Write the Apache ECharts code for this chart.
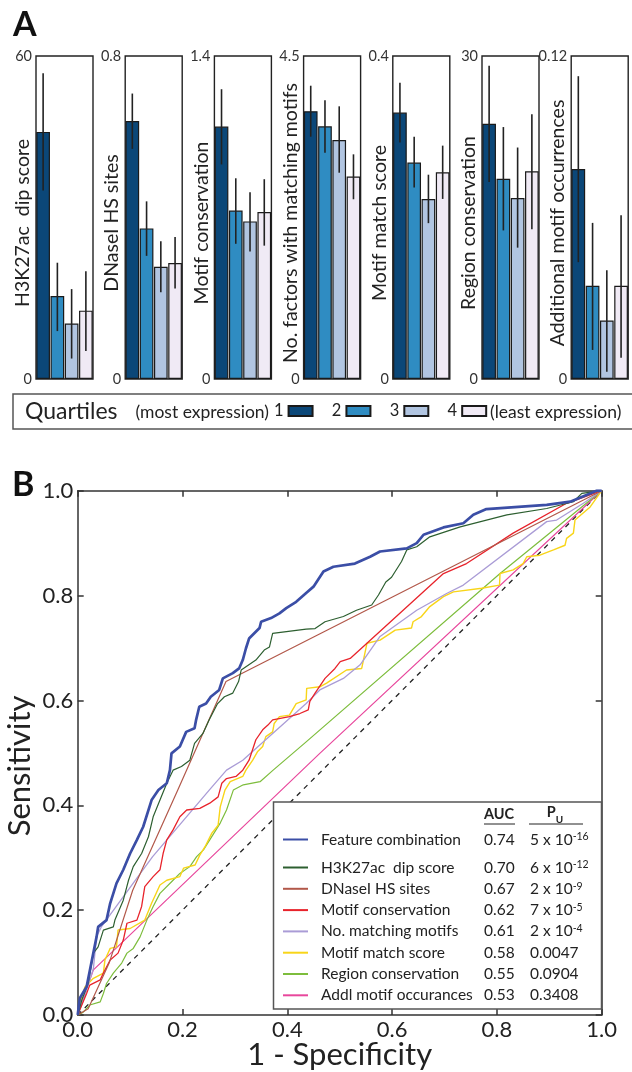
<!DOCTYPE html>
<html><head><meta charset="utf-8">
<script src="https://cdn.jsdelivr.net/npm/echarts@6/dist/echarts.min.js"></script>
<style>html,body{margin:0;padding:0;background:#fff}#c{width:632px;height:1072px}</style>
</head><body><div id="c"></div>
<script>
// ---------- Panel A data ----------
const panelNames = ['H3K27ac  dip score','DNaseI HS sites','Motif conservation','No. factors with matching motifs','Motif match score','Region conservation','Additional motif occurrences'];
const panelMax = [60, 0.8, 1.4, 4.5, 0.4, 30, 0.12];
const panelMaxLabels = ['60','0.8','1.4','4.5','0.4','30','0.12'];
const quartileNames = ['1','2','3','4'];
const meanValues = [
  [45.9, 15.4, 10.3, 12.7],
  [0.639, 0.373, 0.278, 0.287],
  [1.094, 0.730, 0.683, 0.724],
  [3.73, 3.52, 3.33, 2.82],
  [0.330, 0.268, 0.223, 0.256],
  [23.7, 18.6, 16.8, 19.3],
  [0.078, 0.0346, 0.0217, 0.0346]
];
const errLow = [
  [35.0, 8.9, 3.8, 5.2],
  [0.570, 0.305, 0.215, 0.224],
  [0.930, 0.586, 0.553, 0.578],
  [3.376, 3.153, 2.874, 2.504],
  [0.293, 0.237, 0.193, 0.223],
  [18.3, 13.8, 12.2, 13.9],
  [0.0434, 0.0108, 0.0027, 0.0079]
];
const errHigh = [
  [56.8, 21.6, 16.7, 20.0],
  [0.707, 0.440, 0.341, 0.352],
  [1.256, 0.870, 0.809, 0.866],
  [4.086, 3.883, 3.799, 3.130],
  [0.367, 0.300, 0.253, 0.289],
  [29.1, 23.4, 21.5, 24.6],
  [0.1125, 0.0580, 0.0404, 0.0608]
];

// ---------- Panel B data ----------
const rocNames = ['Feature combination','H3K27ac  dip score','DNaseI HS sites','Motif conservation','No. matching motifs','Motif match score','Region conservation','Addl motif occurances'];
const aucValues = ['0.74','0.70','0.67','0.62','0.61','0.58','0.55','0.53'];
const pMantissa = ['5 x 10','6 x 10','2 x 10','7 x 10','2 x 10','0.0047','0.0904','0.3408'];
const pExponent = ['-16','-12','-9','-5','-4','','',''];
const rocTicks = ['0.0','0.2','0.4','0.6','0.8','1.0'];

const rocFeature = [[0,0],[0.004,0.032],[0.017,0.054],[0.036,0.149],[0.039,0.168],[0.055,0.181],[0.062,0.213],[0.074,0.251],[0.087,0.277],[0.100,0.308],[0.113,0.334],[0.125,0.359],[0.141,0.410],[0.154,0.429],[0.170,0.442],[0.176,0.467],[0.179,0.499],[0.195,0.512],[0.207,0.540],[0.223,0.547],[0.226,0.563],[0.232,0.588],[0.245,0.594],[0.254,0.607],[0.270,0.620],[0.277,0.642],[0.296,0.652],[0.308,0.661],[0.315,0.677],[0.321,0.699],[0.327,0.718],[0.347,0.738],[0.350,0.750],[0.369,0.757],[0.385,0.766],[0.398,0.776],[0.417,0.788],[0.436,0.805],[0.450,0.817],[0.469,0.846],[0.488,0.855],[0.529,0.861],[0.558,0.874],[0.577,0.884],[0.628,0.890],[0.647,0.900],[0.660,0.916],[0.698,0.930],[0.736,0.938],[0.755,0.954],[0.780,0.965],[0.895,0.973],[0.940,0.979],[0.971,0.992],[0.990,1.0],[1,1]];
const rocH3K27ac = [[0,0],[0.008,0.029],[0.020,0.060],[0.030,0.118],[0.039,0.130],[0.049,0.162],[0.068,0.168],[0.071,0.181],[0.087,0.219],[0.097,0.257],[0.106,0.283],[0.122,0.308],[0.135,0.340],[0.144,0.378],[0.157,0.410],[0.170,0.442],[0.182,0.467],[0.198,0.474],[0.214,0.486],[0.223,0.518],[0.239,0.537],[0.251,0.563],[0.267,0.594],[0.280,0.607],[0.296,0.614],[0.307,0.636],[0.312,0.658],[0.340,0.677],[0.356,0.696],[0.366,0.702],[0.372,0.728],[0.436,0.736],[0.453,0.737],[0.472,0.750],[0.507,0.760],[0.532,0.772],[0.561,0.782],[0.574,0.801],[0.588,0.826],[0.599,0.835],[0.618,0.865],[0.628,0.887],[0.647,0.893],[0.672,0.912],[0.730,0.931],[0.819,0.954],[0.895,0.966],[0.946,0.979],[0.962,0.995],[1,1]];
const rocDNase = [[0,0],[0.02,0.012],[0.06,0.099],[0.105,0.238],[0.191,0.429],[0.283,0.636],[1,1]];
const rocMotifCons = [[0,0],[0.017,0.041],[0.023,0.057],[0.043,0.067],[0.049,0.080],[0.062,0.105],[0.077,0.118],[0.087,0.143],[0.094,0.175],[0.113,0.181],[0.122,0.207],[0.128,0.245],[0.144,0.264],[0.157,0.277],[0.163,0.308],[0.170,0.334],[0.182,0.353],[0.195,0.378],[0.208,0.391],[0.233,0.394],[0.252,0.404],[0.268,0.416],[0.275,0.442],[0.284,0.451],[0.302,0.455],[0.315,0.467],[0.327,0.486],[0.340,0.525],[0.353,0.544],[0.363,0.553],[0.372,0.563],[0.404,0.569],[0.424,0.575],[0.440,0.582],[0.443,0.598],[0.453,0.614],[0.472,0.642],[0.491,0.661],[0.501,0.674],[0.520,0.680],[0.552,0.709],[0.698,0.842],[0.742,0.861],[0.831,0.919],[0.933,0.976],[1,1]];
const rocNumMotifs = [[0,0],[0.011,0.029],[0.030,0.089],[0.036,0.150],[0.045,0.168],[0.143,0.302],[0.251,0.429],[0.284,0.467],[0.315,0.486],[0.436,0.594],[0.462,0.620],[0.507,0.642],[0.539,0.668],[0.577,0.722],[0.647,0.772],[0.704,0.804],[0.736,0.820],[0.895,0.941],[0.914,0.944],[0.965,0.976],[1,1]];
const rocMatchScore = [[0,0],[0.008,0.035],[0.014,0.054],[0.030,0.070],[0.049,0.080],[0.052,0.105],[0.062,0.127],[0.074,0.130],[0.077,0.162],[0.100,0.165],[0.128,0.181],[0.141,0.213],[0.157,0.248],[0.170,0.257],[0.195,0.264],[0.202,0.280],[0.224,0.286],[0.233,0.305],[0.243,0.321],[0.256,0.347],[0.268,0.362],[0.272,0.397],[0.281,0.429],[0.291,0.445],[0.315,0.455],[0.321,0.467],[0.334,0.486],[0.343,0.502],[0.353,0.512],[0.359,0.531],[0.372,0.540],[0.375,0.556],[0.385,0.569],[0.404,0.572],[0.417,0.594],[0.436,0.601],[0.437,0.623],[0.462,0.626],[0.475,0.633],[0.513,0.658],[0.542,0.661],[0.552,0.709],[0.577,0.715],[0.606,0.734],[0.637,0.738],[0.640,0.750],[0.656,0.760],[0.672,0.779],[0.698,0.798],[0.717,0.807],[0.771,0.814],[0.805,0.820],[0.806,0.842],[0.831,0.849],[0.850,0.861],[0.857,0.874],[0.882,0.877],[0.908,0.887],[0.930,0.896],[0.933,0.909],[0.946,0.919],[0.949,0.944],[0.978,0.969],[1,1]];
const rocRegionCons = [[0,0],[0.010,0.005],[0.023,0.019],[0.043,0.025],[0.049,0.041],[0.055,0.060],[0.068,0.080],[0.084,0.099],[0.094,0.118],[0.106,0.127],[0.119,0.149],[0.132,0.181],[0.144,0.207],[0.157,0.232],[0.182,0.257],[0.195,0.270],[0.214,0.283],[0.227,0.302],[0.240,0.315],[0.252,0.334],[0.272,0.366],[0.284,0.391],[0.297,0.429],[0.316,0.439],[0.348,0.445],[0.373,0.467],[0.436,0.521],[0.806,0.842],[1,1]];
const rocAddlMotif = [[0,0],[0.003,0.010],[0.030,0.086],[0.462,0.499],[1,1]];
const rocChance = [[0,0],[1,1]];

const rocData = [rocFeature, rocH3K27ac, rocDNase, rocMotifCons, rocNumMotifs, rocMatchScore, rocRegionCons, rocAddlMotif];

// ---------- styles ----------
const FONT = 'Lato, "Open Sans", sans-serif';
const quartileColors = ['#0b4778','#2f8cc2','#b1c5e1','#f0eaf5'];
const rocColors = ['#3b4ea6','#2d5f30','#b2584a','#e8232b','#aa9cd6','#f8d519','#7dbd3c','#e8479c'];
const rocWidths = [2.7, 1.2, 1.2, 1.3, 1.3, 1.4, 1.2, 1.2];

const grids = [], xAxes = [], yAxes = [], series = [];

panelNames.forEach((name, i) => {
  const left = 36 + i * 89.2;
  grids.push({left: left, top: 56, width: 57, height: 323, show: true, borderColor: '#222', borderWidth: 1.4, backgroundColor: '#fff', outerBoundsMode: 'none'});
  xAxes.push({type: 'category', gridIndex: i, data: quartileNames, axisLine: {show: false}, axisTick: {show: false}, axisLabel: {show: false}, splitLine: {show: false}});
  yAxes.push({
    type: 'value', gridIndex: i, min: 0, max: panelMax[i], interval: panelMax[i],
    name: name, nameLocation: 'middle', nameGap: 3, nameMoveOverlap: false,
    nameTextStyle: {fontSize: 19.5, color: '#222', fontFamily: FONT, padding: [0, 11, 0, 0]},
    axisLine: {show: false}, axisTick: {show: false}, splitLine: {show: false},
    axisLabel: {fontSize: 14.5, color: '#333', margin: 4, fontFamily: FONT, formatter: v => v === 0 ? '0' : panelMaxLabels[i]}
  });
  quartileNames.forEach((q, k) => {
    series.push({
      type: 'bar', name: q, xAxisIndex: i, yAxisIndex: i, stack: 'p' + i,
      data: quartileNames.map((_, j) => j === k ? meanValues[i][k] : '-'),
      barCategoryGap: '4%',
      itemStyle: {color: quartileColors[k], borderColor: '#1a1a1a', borderWidth: 1.2},
      emphasis: {disabled: true}, animation: false, silent: true
    });
  });
  series.push({
    type: 'custom', name: 'err' + i, xAxisIndex: i, yAxisIndex: i, z: 5, silent: true, animation: false,
    data: quartileNames.map((q, k) => [k, errLow[i][k], errHigh[i][k]]),
    encode: {x: 0, y: [1, 2]},
    renderItem: (params, api) => {
      const lo = api.coord([api.value(0), api.value(1)]);
      const hi = api.coord([api.value(0), api.value(2)]);
      return {type: 'line', shape: {x1: lo[0], y1: lo[1], x2: hi[0], y2: hi[1]}, style: {stroke: '#222', lineWidth: 1.6}};
    }
  });
});

// Panel B grid
const axLine = {lineStyle: {color: '#333', width: 1.5}, onZero: false};
const axTick = {inside: true, length: 6, lineStyle: {color: '#333', width: 1.5}};
grids.push({left: 77.7, top: 490.7, width: 524, height: 524.3, outerBoundsMode: 'none'});
xAxes.push({type: 'value', gridIndex: 7, min: 0, max: 1, interval: 0.2, name: '1 - Specificity', nameLocation: 'middle', nameGap: 24, nameMoveOverlap: false,
  nameTextStyle: {fontSize: 31, color: '#222', fontFamily: FONT}, axisLine: axLine, axisTick: axTick, splitLine: {show: false},
  axisLabel: {fontSize: 22, color: '#222', margin: 4, fontFamily: FONT, formatter: v => rocTicks[Math.round(v / 0.2)]}});
xAxes.push({type: 'value', gridIndex: 7, position: 'top', min: 0, max: 1, interval: 0.2, axisLine: axLine, axisTick: axTick, axisLabel: {show: false}, splitLine: {show: false}});
yAxes.push({type: 'value', gridIndex: 7, min: 0, max: 1, interval: 0.2, name: 'Sensitivity', nameLocation: 'middle', nameGap: 42, nameMoveOverlap: false,
  nameTextStyle: {fontSize: 31, color: '#222', fontFamily: FONT, padding: [0, 26, 0, 0]}, axisLine: axLine, axisTick: axTick, splitLine: {show: false},
  axisLabel: {fontSize: 22, color: '#222', margin: 4.5, fontFamily: FONT, formatter: v => rocTicks[Math.round(v / 0.2)]}});
yAxes.push({type: 'value', gridIndex: 7, position: 'right', min: 0, max: 1, interval: 0.2, axisLine: axLine, axisTick: axTick, axisLabel: {show: false}, splitLine: {show: false}});

series.push({type: 'line', name: 'chance', xAxisIndex: 7, yAxisIndex: 7, data: rocChance, showSymbol: false, silent: true, animation: false,
  lineStyle: {color: '#222', width: 1.3, type: [5, 5]}, z: 2});
for (let i = rocData.length - 1; i >= 0; i--) {
  series.push({type: 'line', name: rocNames[i], xAxisIndex: 7, yAxisIndex: 7, data: rocData[i], showSymbol: false, silent: true, animation: false,
    color: rocColors[i], itemStyle: {color: rocColors[i]}, lineStyle: {color: rocColors[i], width: rocWidths[i]}, emphasis: {disabled: true}, z: 3});
}

const legRich = {
  n: {width: 163, fontSize: 15.5, padding: [0, 0, 0, 8], color: '#222', fontFamily: FONT},
  a: {width: 46, fontSize: 15.5, color: '#222', fontFamily: FONT},
  p: {fontSize: 15.5, color: '#222', fontFamily: FONT},
  s: {fontSize: 10.5, verticalAlign: 'top', color: '#222', fontFamily: FONT}
};
const legFormatter = name => {
  const i = rocNames.indexOf(name);
  return '{n|' + name + '}{a|' + aucValues[i] + '}{p|' + pMantissa[i] + '}' + (pExponent[i] ? '{s|' + pExponent[i] + '}' : '');
};

const option = {
  backgroundColor: '#fff',
  animation: false,
  textStyle: {fontFamily: FONT},
  grid: grids, xAxis: xAxes, yAxis: yAxes, series: series,
  legend: [
    {data: quartileNames, left: 274, top: 402.5, orient: 'horizontal', align: 'right', icon: 'rect', itemWidth: 24, itemHeight: 10, itemGap: 18.3,
     padding: 0, selectedMode: false, textStyle: {fontSize: 16.5, color: '#222', fontFamily: FONT}},
    {data: [rocNames[0]], left: 283, top: 831.5, orient: 'vertical', icon: 'rect', itemWidth: 25, itemHeight: 2, padding: 0, selectedMode: false, z: 60,
     formatter: legFormatter, textStyle: {rich: legRich}},
    {data: rocNames.slice(1), left: 283, top: 859.5, orient: 'vertical', icon: 'rect', itemWidth: 25, itemHeight: 2, itemGap: 5.3, padding: 0, selectedMode: false, z: 60,
     formatter: legFormatter, textStyle: {rich: legRich}}
  ],
  graphic: [
    {type: 'text', x: 13, y: 25, z: 60, style: {text: 'A', fontSize: 34, fontWeight: 'bold', fontFamily: FONT, fill: '#111', verticalAlign: 'middle'}},
    {type: 'text', x: 12, y: 485, z: 60, style: {text: 'B', fontSize: 34, fontWeight: 'bold', fontFamily: FONT, fill: '#111', verticalAlign: 'middle'}},
    {type: 'rect', z: 50, shape: {x: 13, y: 394, width: 640, height: 35}, style: {fill: 'none', stroke: '#555', lineWidth: 1.5}},
    {type: 'text', x: 25, y: 412, z: 60, style: {text: 'Quartiles', fontSize: 23, fontFamily: FONT, fill: '#222', verticalAlign: 'middle'}},
    {type: 'text', x: 269, y: 412, z: 60, style: {text: '(most expression)', fontSize: 17.5, fontFamily: FONT, fill: '#222', align: 'right', verticalAlign: 'middle'}},
    {type: 'text', x: 490, y: 412, z: 60, style: {text: '(least expression)', fontSize: 17.5, fontFamily: FONT, fill: '#222', align: 'left', verticalAlign: 'middle'}},
    {type: 'rect', z: 50, shape: {x: 273.5, y: 802, width: 328, height: 207}, style: {fill: '#fff', stroke: '#555', lineWidth: 1.5}},
    {type: 'text', x: 499, y: 814, z: 60, style: {text: 'AUC', fontSize: 14.5, fontWeight: 'bold', fontFamily: FONT, fill: '#222', align: 'center', verticalAlign: 'middle'}},
    {type: 'line', z: 60, shape: {x1: 484, y1: 824, x2: 515, y2: 824}, style: {stroke: '#222', lineWidth: 1}},
    {type: 'text', x: 555, y: 815, z: 60, style: {text: '{b|P}{u|U}', align: 'center', verticalAlign: 'middle', fill: '#222',
      rich: {b: {fontSize: 14.5, fontWeight: 'bold', fontFamily: FONT, lineHeight: 20, verticalAlign: 'top'}, u: {fontSize: 10, fontWeight: 'bold', fontFamily: FONT, lineHeight: 10, verticalAlign: 'bottom'}}}},
    {type: 'line', z: 60, shape: {x1: 529, y1: 824, x2: 583, y2: 824}, style: {stroke: '#222', lineWidth: 1}}
  ]
};

const chart = echarts.init(document.getElementById('c'), null, {renderer: 'canvas'});
chart.setOption(option);
</script>
</body></html>
